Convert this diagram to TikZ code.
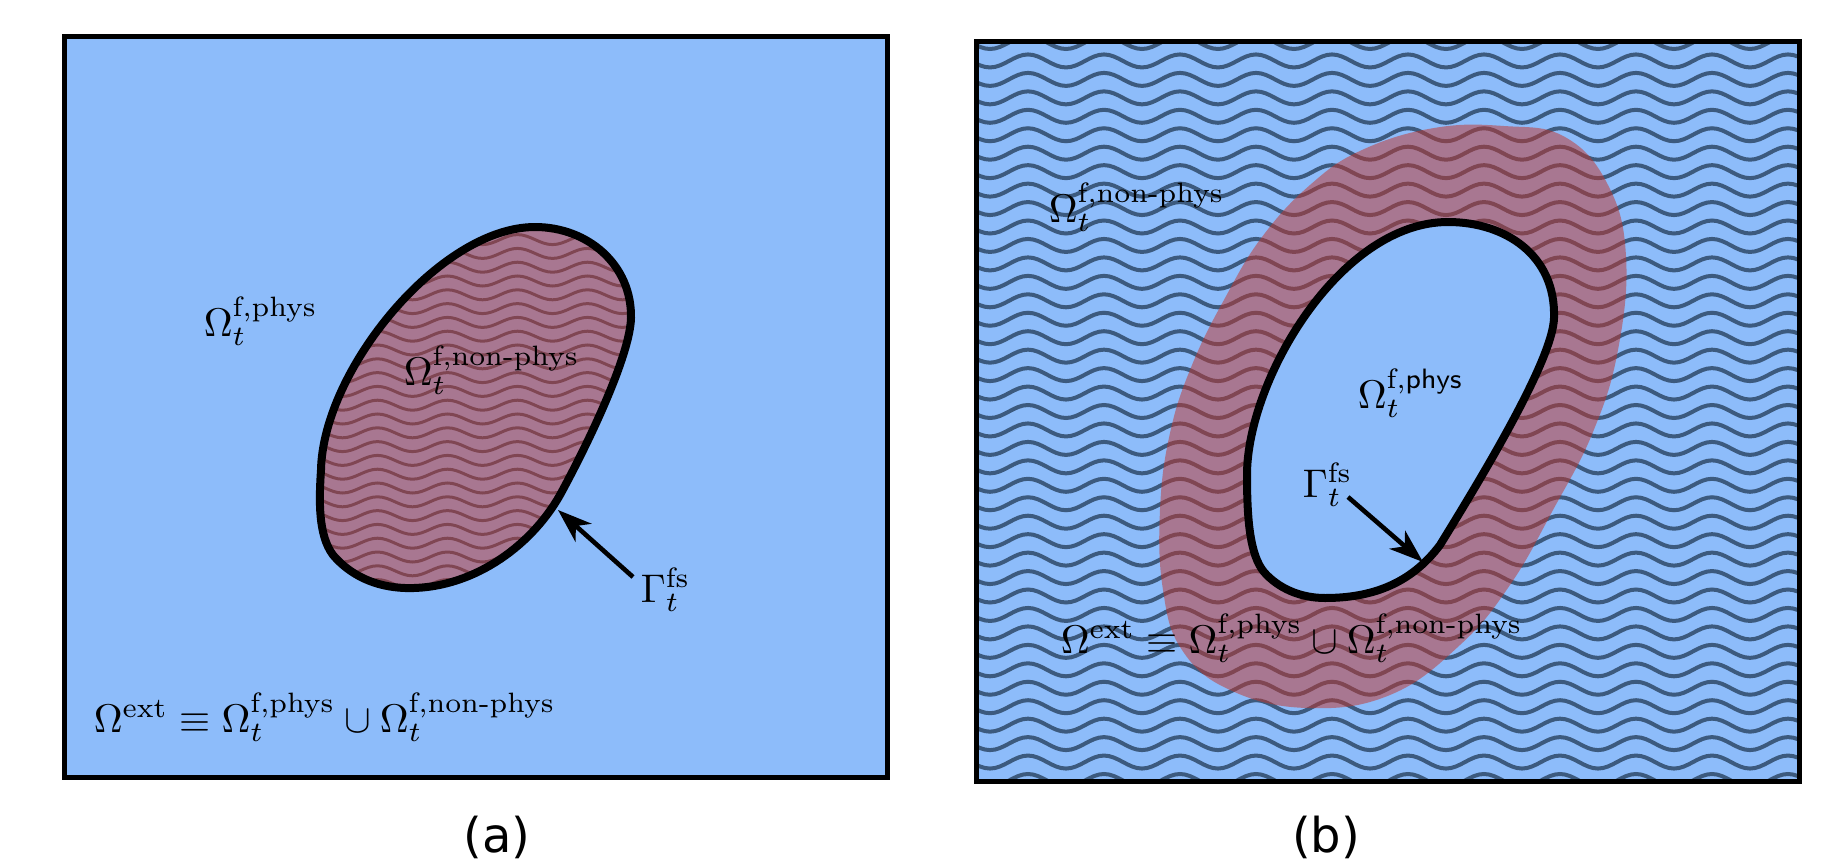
\documentclass[tikz,border=0pt]{standalone}
\usepackage{amsmath}
\usepackage{fontspec}
\newfontfamily\capfont{DejaVu Sans}
\usetikzlibrary{arrows.meta}
\definecolor{bgblue}{RGB}{141,188,250}
\definecolor{halored}{RGB}{196,52,42}
\definecolor{waveblue}{RGB}{60,90,126}
\def\blobA{(535,227) .. controls (588,227) and (632,265) .. (631,318)
  .. controls (630,355) and (590,440) .. (560,495)
  .. controls (530,548) and (470,590) .. (405,588)
  .. controls (375,587) and (350,575) .. (333,555)
  .. controls (318,535) and (319,500) .. (321,470)
  .. controls (323,370) and (440,227) .. (535,227) -- cycle}
\def\blobB{(1448,222) .. controls (1505,222) and (1556,255) .. (1554,318)
  .. controls (1553,360) and (1480,480) .. (1440,545)
  .. controls (1410,585) and (1370,598) .. (1325,598)
  .. controls (1300,598) and (1278,588) .. (1264,572)
  .. controls (1250,555) and (1247,520) .. (1247,475)
  .. controls (1247,380) and (1340,222) .. (1448,222) -- cycle}
\def\haloB{plot[smooth cycle,tension=0.7] coordinates {(1504,126) (1565,137) (1608,185) (1626,256) (1618,350) (1593,432) (1553,510) (1510,585) (1460,645) (1390,695) (1307,708) (1230,690) (1182,650) (1163,590) (1160,510) (1170,433) (1192,365) (1225,298) (1262,237) (1310,185) (1362,150) (1434,128)}}
\begin{document}
\begin{tikzpicture}[x=0.5pt,y=-0.5pt,
  panel/.style={draw=black,line width=2.5pt},
  outline/.style={draw=black,line width=4pt,line join=round},
  waveA/.style={draw=waveblue,line width=1.5pt},
  waveB/.style={draw=waveblue,line width=2pt},
  lbl/.style={inner sep=0pt,anchor=base west,scale=2},
  ptr/.style={line width=2.3pt,-{Stealth[length=17pt,width=12pt,inset=5pt]}},
  captext/.style={font=\capfont,scale=2.4,inner sep=0pt}]
\useasboundingbox (0,0) rectangle (1828,868);
% ---------- panel (a)
\fill[bgblue] (64,36.5) rectangle (887,777);
\begin{scope}
  \clip \blobA;
  \foreach \k in {0,...,29} {
    \draw[waveA] (290,212+13.8*\k) \foreach \i in {1,...,6} {sin ++(17.5,-5) cos ++(17.5,5) sin ++(17.5,5) cos ++(17.5,-5)};
  }
  \fill[halored,opacity=0.5] \blobA;
\end{scope}
\draw[outline] \blobA;
\draw[panel] (64,36.5) rectangle (887,777);
\node[lbl] (physA) at (203,336) {$\Omega_t^{\text{f,phys}}$};
\node[lbl] (nonphysA) at (403,385) {$\Omega_t^{\text{f,non-phys}}$};
\node[lbl] (gammaA) at (640,602) {$\Gamma_t^{\text{fs}}$};
\node[lbl] (extA) at (93,732) {$\Omega^{\text{ext}}\equiv\Omega_t^{\text{f,phys}}\cup\Omega_t^{\text{f,non-phys}}$};
\coordinate (arrAtail) at (633,577);
\coordinate (arrAtip) at (558,510);
\draw[ptr] (arrAtail) -- (arrAtip);
% ---------- panel (b)
\fill[bgblue] (976.5,41) rectangle (1799.5,781.5);
\begin{scope}
  \clip (976.5,41) rectangle (1799.5,781.5);
  \foreach \k in {0,...,40} {
    \draw[waveB] (933,42.5+18.45*\k) \foreach \i in {1,...,12} {sin ++(19,-6.5) cos ++(19,6.5) sin ++(19,6.5) cos ++(19,-6.5)};
  }
\end{scope}
\fill[halored,opacity=0.5] \haloB;
\filldraw[outline,fill=bgblue] \blobB;
\draw[panel] (976.5,41) rectangle (1799.5,781.5);
\node[lbl] (nonphysB) at (1048,222) {$\Omega_t^{\text{f,non-phys}}$};
\node[lbl] (physB) at (1357,408) {$\Omega_t^{\text{f,\textsf{phys}}}$};
\node[lbl] (gammaB) at (1302,497) {$\Gamma_t^{\text{fs}}$};
\node[lbl] (extB) at (1060,653) {$\Omega^{\text{ext}}\equiv\Omega_t^{\text{f,phys}}\cup\Omega_t^{\text{f,non-phys}}$};
\coordinate (arrBtail) at (1348,497);
\coordinate (arrBtip) at (1423,562);
\draw[ptr] (arrBtail) -- (arrBtip);
% ---------- captions
\node[captext] (capA) at (497,837) {(a)};
\node[captext] (capB) at (1326,837) {(b)};
\end{tikzpicture}
\end{document}
